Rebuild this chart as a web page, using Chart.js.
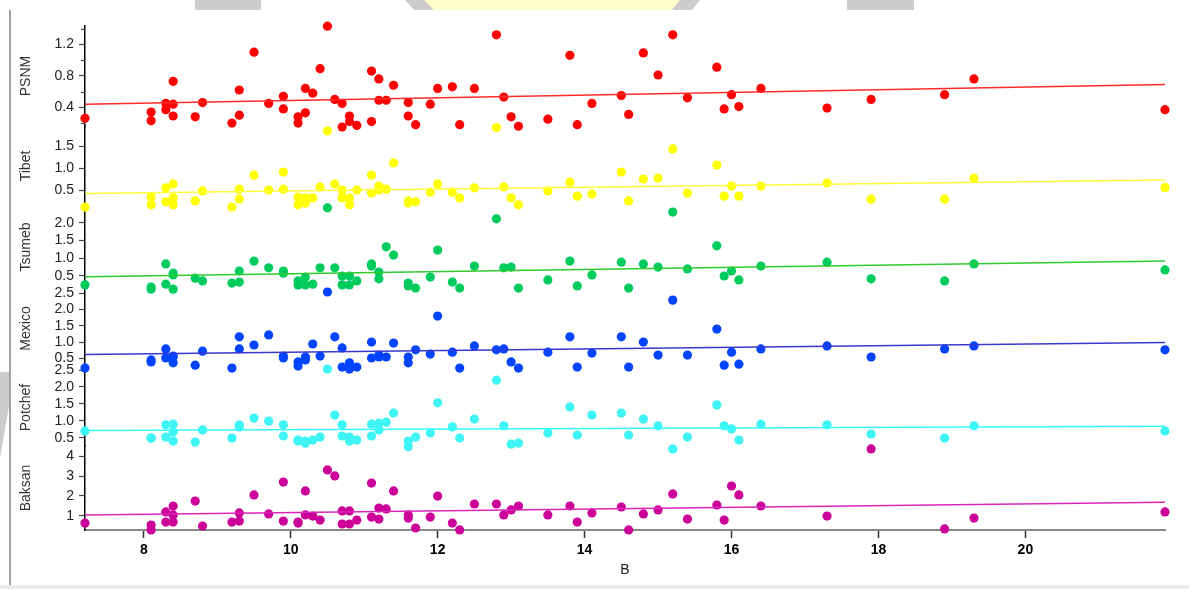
<!DOCTYPE html>
<html>
<head>
<meta charset="utf-8">
<script src="https://cdn.jsdelivr.net/npm/chart.js@4.4.1/dist/chart.umd.min.js"></script>
<style>
  html, body { margin: 0; padding: 0; background: #fff; }
  #wrap { width: 1189px; height: 589px; position: relative; }
</style>
</head>
<body>
<div id="wrap"><canvas id="chart"></canvas></div>
<script>
// shared B values (x) for every site
const bValues = [7.2, 8.1, 8.1, 8.3, 8.3, 8.4, 8.4, 8.4, 8.7, 8.8,
  9.2, 9.3, 9.3, 9.5, 9.7, 9.9, 9.9, 10.1, 10.1, 10.2,
  10.2, 10.3, 10.4, 10.5, 10.6, 10.7, 10.7, 10.8, 10.8, 10.9,
  11.1, 11.1, 11.2, 11.2, 11.3, 11.4, 11.6, 11.6, 11.7, 11.9,
  12.0, 12.2, 12.3, 12.5, 12.8, 12.9, 13.0, 13.1, 13.5, 13.8,
  13.9, 14.1, 14.5, 14.6, 14.8, 15.0, 15.2, 15.4, 15.8, 15.9,
  16.0, 16.1, 16.4, 17.3, 17.9, 18.9, 19.3, 21.9];

const psnm = [0.26, 0.34, 0.23, 0.45, 0.37, 0.73, 0.44, 0.29, 0.28, 0.46,
  0.20, 0.30, 0.62, 1.10, 0.45, 0.54, 0.38, 0.28, 0.20, 0.64,
  0.33, 0.58, 0.89, 1.43, 0.50, 0.45, 0.15, 0.29, 0.22, 0.17,
  0.86, 0.22, 0.76, 0.49, 0.49, 0.68, 0.46, 0.29, 0.18, 0.44,
  0.64, 0.66, 0.18, 0.64, 1.32, 0.53, 0.28, 0.16, 0.25, 1.06,
  0.18, 0.45, 0.55, 0.31, 1.09, 0.81, 1.32, 0.52, 0.91, 0.38,
  0.56, 0.41, 0.64, 0.39, 0.50, 0.56, 0.76, 0.37];

const tibet = [0.11, 0.34, 0.16, 0.55, 0.23, 0.64, 0.32, 0.16, 0.25, 0.48,
  0.11, 0.52, 0.29, 0.84, 0.50, 0.91, 0.52, 0.34, 0.16, 0.32,
  0.20, 0.32, 0.57, 1.85, 0.64, 0.50, 0.32, 0.32, 0.16, 0.50,
  0.84, 0.43, 0.59, 0.50, 0.52, 1.12, 0.25, 0.20, 0.23, 0.45,
  0.64, 0.45, 0.32, 0.55, 1.93, 0.57, 0.32, 0.16, 0.48, 0.68,
  0.36, 0.41, 0.91, 0.25, 0.75, 0.77, 1.44, 0.43, 1.07, 0.36,
  0.59, 0.36, 0.59, 0.66, 0.29, 0.29, 0.77, 0.56];

const tsumeb = [0.25, 0.19, 0.13, 0.84, 0.27, 0.58, 0.13, 0.53, 0.44, 0.36,
  0.30, 0.64, 0.33, 0.92, 0.73, 0.64, 0.58, 0.25, 0.36, 0.25,
  0.47, 0.27, 0.73, 2.42, 0.73, 0.25, 0.50, 0.50, 0.25, 0.36,
  0.78, 0.84, 0.42, 0.61, 1.32, 1.09, 0.30, 0.22, 0.16, 0.47,
  1.23, 0.33, 0.16, 0.78, 2.11, 0.73, 0.75, 0.16, 0.39, 0.92,
  0.22, 0.53, 0.89, 0.16, 0.84, 0.75, 2.30, 0.70, 1.35, 0.50,
  0.64, 0.39, 0.78, 0.89, 0.42, 0.36, 0.84, 0.67];

const mexico = [0.20, 0.45, 0.39, 0.79, 0.51, 0.57, 0.36, 0.54, 0.29, 0.72,
  0.20, 1.16, 0.79, 0.91, 1.22, 0.57, 0.51, 0.26, 0.39, 0.54,
  0.45, 0.94, 0.57, 2.54, 1.16, 0.82, 0.23, 0.36, 0.17, 0.23,
  1.00, 0.51, 0.60, 0.54, 0.54, 0.97, 0.54, 0.36, 0.76, 0.63,
  1.80, 0.69, 0.20, 0.88, 0.76, 0.79, 0.39, 0.20, 0.69, 1.16,
  0.23, 0.66, 1.16, 0.23, 1.00, 0.60, 2.29, 0.60, 1.40, 0.29,
  0.69, 0.32, 0.79, 0.88, 0.54, 0.79, 0.88, 0.76];

const potchef = [0.70, 0.49, 0.49, 0.88, 0.52, 0.90, 0.67, 0.40, 0.37, 0.73,
  0.49, 0.88, 0.82, 1.08, 0.99, 0.88, 0.55, 0.43, 0.40, 0.40,
  0.34, 0.43, 0.52, 2.53, 1.17, 0.55, 0.88, 0.52, 0.40, 0.43,
  0.55, 0.90, 0.73, 0.93, 0.96, 1.23, 0.40, 0.23, 0.52, 0.64,
  1.53, 0.82, 0.49, 1.05, 2.20, 0.85, 0.31, 0.34, 0.64, 1.41,
  0.58, 1.17, 1.23, 0.58, 1.05, 0.85, 0.17, 0.52, 1.47, 0.85,
  0.76, 0.43, 0.90, 0.88, 0.61, 0.49, 0.85, 0.70];

const baksan = [0.63, 0.53, 0.28, 1.19, 0.68, 1.49, 1.04, 0.68, 1.74, 0.48,
  0.68, 1.14, 0.73, 2.05, 1.09, 2.70, 0.73, 0.63, 0.68, 2.25,
  1.04, 0.98, 0.78, 3.31, 3.01, 1.24, 0.58, 1.24, 0.58, 0.78,
  2.65, 0.93, 1.39, 0.83, 1.34, 2.25, 1.04, 0.88, 0.38, 0.93,
  1.99, 0.63, 0.28, 1.59, 1.59, 1.04, 1.29, 1.49, 1.04, 1.49,
  0.68, 1.14, 1.44, 0.28, 1.09, 1.29, 2.10, 0.83, 1.54, 0.78,
  2.50, 2.05, 1.49, 0.98, 4.37, 0.33, 0.88, 1.19];

// straight-line fits, value at B = 7.2 and at B = 21.9
const fitB = [7.2, 21.9];
const psnmFit = [0.44, 0.69];
const tibetFit = [0.42, 0.73];
const tsumebFit = [0.48, 0.92];
const mexicoFit = [0.62, 0.99];
const potchefFit = [0.71, 0.84];
const baksanFit = [1.03, 1.68];

const psnmMinor = [0.2, 0.6, 1.0, 1.4];

const FONT = "'Liberation Sans', Arial, sans-serif";

// top to bottom
const panels = [
  { id: 'psnm', label: 'PSNM', values: psnm, fit: psnmFit, dot: '#ff0000', line: '#ff2a2a',
    min: 0.163, max: 1.432, step: 0.4, digits: 1, h: 100 },
  { id: 'tibet', label: 'Tibet', values: tibet, fit: tibetFit, dot: '#ffff00', line: '#ffff3a',
    min: 0.134, max: 1.965, step: 0.5, digits: 1, h: 80 },
  { id: 'tsumeb', label: 'Tsumeb', values: tsumeb, fit: tsumebFit, dot: '#00cc5e', line: '#30cc30',
    min: 0.162, max: 2.47, step: 0.5, digits: 1, h: 82 },
  { id: 'mexico', label: 'Mexico', values: mexico, fit: mexicoFit, dot: '#0044ff', line: '#3838d0',
    min: 0.171, max: 2.663, step: 0.5, digits: 1, h: 81 },
  { id: 'potchef', label: 'Potchef', values: potchef, fit: potchefFit, dot: '#3ff4f4', line: '#33ffff',
    min: 0.255, max: 2.53, step: 0.5, digits: 1, h: 77 },
  { id: 'baksan', label: 'Baksan', values: baksan, fit: baksanFit, dot: '#cc0099', line: '#d826b8',
    min: 0.278, max: 4.52, step: 1, digits: 0, h: 84 }
];

const scales = {
  x: {
    type: 'linear',
    min: 7.2,
    max: 21.9,
    ticks: {
      stepSize: 2, includeBounds: false, autoSkip: false, maxRotation: 0,
      padding: 4, color: '#000',
      font: { family: FONT, size: 14, weight: 'bold' }
    },
    grid: { drawOnChartArea: false, tickLength: 8, tickColor: '#333', tickWidth: 1.5 },
    border: { color: '#888', width: 2 },
    title: {
      display: true, text: 'B', color: '#222',
      font: { family: FONT, size: 14 }, padding: { top: 0, bottom: 10 }
    },
    afterFit: (s) => { s.height = 59; }
  }
};

const datasets = [];

panels.forEach((p, i) => {
  scales[p.id] = {
    type: 'linear',
    position: 'left',
    stack: 'sites',
    stackWeight: p.h,
    weight: panels.length - i,
    min: p.min,
    max: p.max,
    ticks: {
      stepSize: p.step, includeBounds: false, autoSkip: false,
      padding: 5, color: '#222',
      font: { family: FONT, size: 14 },
      callback: (v) => v.toFixed(p.digits)
    },
    grid: { drawOnChartArea: false, tickLength: 6, tickColor: '#444', tickWidth: 1.2 },
    border: { color: '#000', width: 1.5 },
    title: {
      display: true, text: p.label, color: '#333',
      font: { family: FONT, size: 14 }, padding: { top: 8, bottom: 0 }
    },
    afterFit: (s) => { s.width = 75; }
  };

  datasets.push({
    type: 'line',
    data: fitB.map((b, k) => ({ x: b, y: p.fit[k] })),
    yAxisID: p.id,
    borderColor: p.line,
    borderWidth: 1.5,
    pointRadius: 0,
    fill: false,
    clip: false
  });

  datasets.push({
    type: 'scatter',
    data: bValues.map((b, k) => ({ x: b, y: p.values[k] })),
    yAxisID: p.id,
    backgroundColor: p.dot,
    borderColor: p.dot,
    borderWidth: 0,
    pointRadius: 4.6,
    pointHoverRadius: 4.6,
    clip: false
  });
});

// white sheet, the grey frame edge and the stamp showing around it
const backdrop = {
  id: 'backdrop',
  beforeDraw(chart) {
    const { ctx, width, height } = chart;
    ctx.save();
    ctx.fillStyle = '#ffffff';
    ctx.fillRect(0, 0, width, height);

    ctx.fillStyle = '#cccccc';
    ctx.fillRect(195, 0, 66, 10);
    ctx.fillRect(847, 0, 67, 10);
    ctx.beginPath();
    ctx.moveTo(405, 0); ctx.lineTo(700, 0); ctx.lineTo(692, 10); ctx.lineTo(414, 10);
    ctx.closePath(); ctx.fill();
    ctx.fillStyle = '#ffffcc';
    ctx.beginPath();
    ctx.moveTo(424, 0); ctx.lineTo(680, 0); ctx.lineTo(672, 10); ctx.lineTo(434, 10);
    ctx.closePath(); ctx.fill();

    ctx.fillStyle = '#cccccc';
    ctx.beginPath();
    ctx.moveTo(0, 372); ctx.lineTo(10, 372); ctx.lineTo(10, 400); ctx.lineTo(0, 458);
    ctx.closePath(); ctx.fill();

    ctx.fillStyle = '#a3a3a3';
    ctx.fillRect(9, 10, 2, 576);
    ctx.fillStyle = '#ececec';
    ctx.fillRect(0, 585, width, height - 585);
    ctx.restore();
  }
};

// short unlabelled ticks between the PSNM labels
const minorTicks = {
  id: 'minorTicks',
  afterDraw(chart) {
    const s = chart.scales.psnm;
    const ctx = chart.ctx;
    ctx.save();
    ctx.strokeStyle = '#444';
    ctx.lineWidth = 1.2;
    psnmMinor.forEach((v) => {
      const y = Math.round(s.getPixelForValue(v)) + 0.5;
      ctx.beginPath();
      ctx.moveTo(s.right - 4, y);
      ctx.lineTo(s.right, y);
      ctx.stroke();
    });
    ctx.restore();
  }
};

new Chart(document.getElementById('chart'), {
  type: 'scatter',
  data: { datasets },
  options: {
    responsive: true,
    maintainAspectRatio: false,
    animation: false,
    events: [],
    layout: { padding: { left: 10, top: 26, right: 24, bottom: 0 } },
    plugins: {
      legend: { display: false },
      tooltip: { enabled: false }
    },
    scales
  },
  plugins: [backdrop, minorTicks]
});
</script>
</body>
</html>
